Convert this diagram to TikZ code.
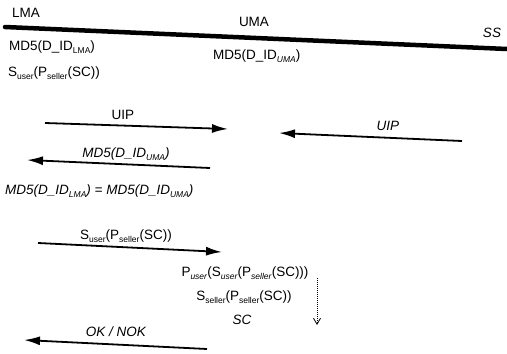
\documentclass[tikz,border=0pt]{standalone}
\usepackage{fontspec}
\setmainfont{Liberation Sans}
\usetikzlibrary{arrows.meta}
\newcommand{\lo}[1]{\raisebox{-0.45ex}{\fontsize{8.5}{9}\selectfont #1}}
\tikzset{
  lbl/.style={font=\fontsize{13.5}{15}\selectfont, inner sep=0pt},
  msg/.style={line width=1.8pt, -{Latex[length=16pt,width=9pt]}},
  bar/.style={line width=4.5pt, line cap=round},
  chain/.style={densely dotted, line width=1pt, -{Straight Barb[length=6pt,width=7pt,line width=0.8pt]}}
}
\begin{document}
\begin{tikzpicture}[x=1pt,y=-1pt]
  \useasboundingbox (0,0) rectangle (507,354);
  % parties and the line between them
  \node[lbl] (lma) at (26,13) {LMA};
  \node[lbl] (uma) at (254,22) {UMA};
  \node[lbl] (ss) at (492,33) {\textit{SS}};
  \coordinate (barL) at (5,27);
  \coordinate (barR) at (507,49);
  \draw[bar] (barL) -- (barR);
  % stored values
  \node[lbl, anchor=west] (hlma) at (9,47) {MD5(D\_ID\lo{LMA})};
  \node[lbl, anchor=west] (sig) at (8,73) {S\lo{user}(P\lo{seller}(SC))};
  \node[lbl, anchor=west] (huma) at (213,56) {MD5(D\_ID\lo{\textit{UMA}})};
  % message ends
  \coordinate (a1) at (45,123);  \coordinate (b1) at (228,129);
  \coordinate (a2) at (462,141); \coordinate (b2) at (279,133);
  \coordinate (a3) at (210,168); \coordinate (b3) at (27,160);
  \coordinate (a4) at (38,243);  \coordinate (b4) at (222,252);
  \coordinate (a5) at (207,349); \coordinate (b5) at (24,340);
  \begin{scope}
    \draw[msg] (a1) -- (b1);
    \draw[msg] (a2) -- (b2);
    \draw[msg] (a3) -- (b3);
    \draw[msg] (a4) -- (b4);
    \draw[msg] (a5) -- (b5);
  \end{scope}
  \node[lbl] (m1) at (123,115) {UIP};
  \node[lbl] (m2) at (388,126) {\textit{UIP}};
  \node[lbl] (m3) at (126,154) {\itshape MD5(D\_ID\lo{UMA})};
  \node[lbl] (m4) at (126,236) {S\lo{user}(P\lo{seller}(SC))};
  \node[lbl] (m5) at (116,332) {\itshape OK / NOK};
  % check and decryption
  \node[lbl, anchor=west] (eq) at (5,191) {\itshape MD5(D\_ID\lo{LMA}) = MD5(D\_ID\lo{UMA})};
  \node[lbl] (d1) at (245,273) {P\lo{\textit{user}}(S\lo{\textit{user}}(P\lo{\textit{seller}}(SC)))};
  \node[lbl] (d2) at (244,297) {S\lo{seller}(P\lo{seller}(SC))};
  \node[lbl] (d3) at (242,320) {\textit{SC}};
  \coordinate (c1) at (317,278);
  \coordinate (c2) at (317,325);
  \draw[chain] (c1) -- (c2);
\end{tikzpicture}
\end{document}
